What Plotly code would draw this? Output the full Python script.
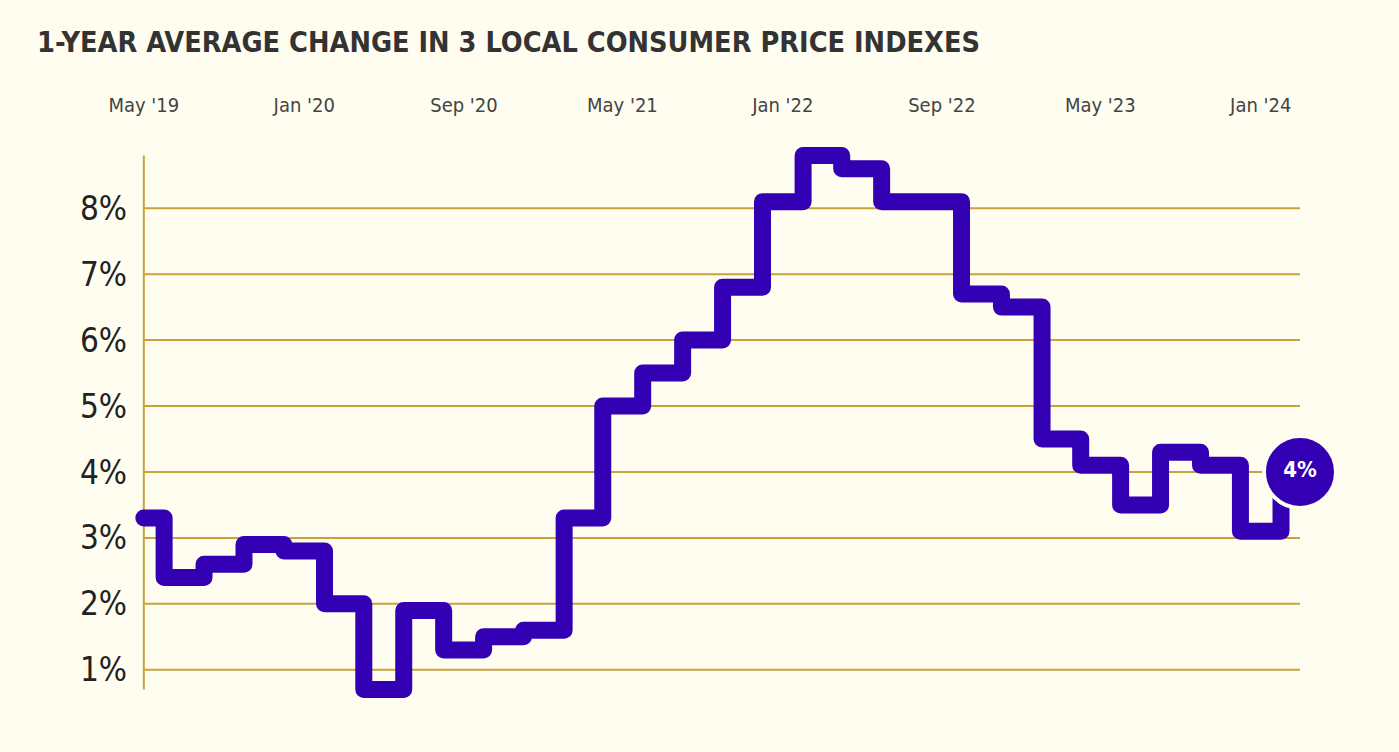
import plotly.graph_objects as go

# Data (1-year average change, %), bimonthly steps
dates = [
    "2019-05-01", "2019-06-01", "2019-08-01", "2019-10-01", "2019-12-01",
    "2020-02-01", "2020-04-01", "2020-06-01", "2020-08-01", "2020-10-01",
    "2020-12-01", "2021-02-01", "2021-04-01", "2021-06-01", "2021-08-01",
    "2021-10-01", "2021-12-01", "2022-02-01", "2022-04-01", "2022-06-01",
    "2022-08-01", "2022-10-01", "2022-12-01", "2023-02-01", "2023-04-01",
    "2023-06-01", "2023-08-01", "2023-10-01", "2023-12-01", "2024-02-01",
    "2024-03-01",
]
values = [
    3.3, 2.4, 2.6, 2.9, 2.8,
    2.0, 0.7, 1.9, 1.3, 1.5,
    1.6, 3.3, 5.0, 5.5, 6.0,
    6.8, 8.1, 8.8, 8.6, 8.1,
    8.1, 6.7, 6.5, 4.5, 4.1,
    3.5, 4.3, 4.1, 3.1, 4.0,
    4.0,
]
x_tick_vals = ["2019-05-01", "2020-01-01", "2020-09-01", "2021-05-01",
               "2022-01-01", "2022-09-01", "2023-05-01", "2024-01-01"]
x_tick_text = ["May '19", "Jan '20", "Sep '20", "May '21",
               "Jan '22", "Sep '22", "May '23", "Jan '24"]
y_tick_vals = [1, 2, 3, 4, 5, 6, 7, 8]
y_tick_text = ["1%", "2%", "3%", "4%", "5%", "6%", "7%", "8%"]
end_label = "4%"
axis_y_span = [0.7, 8.8]

BG = "#fffdf0"
GOLD = "#c9a23f"
PURPLE = "#3300b3"
FONT = "Liberation Sans Narrow, DejaVu Sans Condensed, Roboto, sans-serif"

fig = go.Figure()

# gold gridlines and left axis line (drawn in data coords)
for v in y_tick_vals:
    fig.add_shape(type="line", xref="x", yref="y",
                  x0=dates[0], x1=dates[-1], y0=v, y1=v,
                  line=dict(color=GOLD, width=2), layer="below")
fig.add_shape(type="line", xref="x", yref="y",
              x0=dates[0], x1=dates[0], y0=axis_y_span[0], y1=axis_y_span[1],
              line=dict(color=GOLD, width=2), layer="below")

fig.add_trace(go.Scatter(
    x=dates, y=values, mode="lines",
    line=dict(color=PURPLE, width=17, shape="hv"),
    cliponaxis=False, hoverinfo="skip", showlegend=False,
))
fig.add_trace(go.Scatter(
    x=[dates[-1]], y=[values[-1]], mode="markers+text",
    marker=dict(size=72, color=PURPLE, line=dict(color=BG, width=4)),
    text=[end_label], textposition="middle center",
    textfont=dict(family=FONT, size=22, color="white", weight="bold"),
    cliponaxis=False, hoverinfo="skip", showlegend=False,
))

fig.update_layout(
    width=1399, height=752,
    margin=dict(l=134, r=99, t=138.5, b=45.5),
    paper_bgcolor=BG, plot_bgcolor=BG,
    title=dict(
        text="1-YEAR AVERAGE CHANGE IN 3 LOCAL CONSUMER PRICE INDEXES",
        x=37 / 1399, xanchor="left", xref="container",
        y=1 - 42 / 752, yanchor="middle", yref="container",
        font=dict(family=FONT, size=28.6, color="#333333", weight="bold"),
    ),
    xaxis=dict(
        type="date", range=["2019-04-16", "2024-03-01"], side="top",
        tickvals=x_tick_vals, ticktext=x_tick_text,
        showgrid=False, zeroline=False, showline=False,
        ticks="outside", ticklen=18, tickcolor="rgba(0,0,0,0)",
        tickfont=dict(family=FONT, size=20, color="#444444"),
    ),
    yaxis=dict(
        range=[0.45, 9.05], tickvals=y_tick_vals, ticktext=y_tick_text,
        showgrid=False, zeroline=False, showline=False,
        ticks="", ticklabelstandoff=6,
        tickfont=dict(family=FONT, size=33, color="#222222"),
    ),
)

post = """
var st = document.createElement('style');
st.textContent = '.scatterlayer .js-line{stroke-linejoin:round !important;stroke-linecap:round !important;}';
document.head.appendChild(st);
"""
fig.write_html("out.html", post_script=post)
